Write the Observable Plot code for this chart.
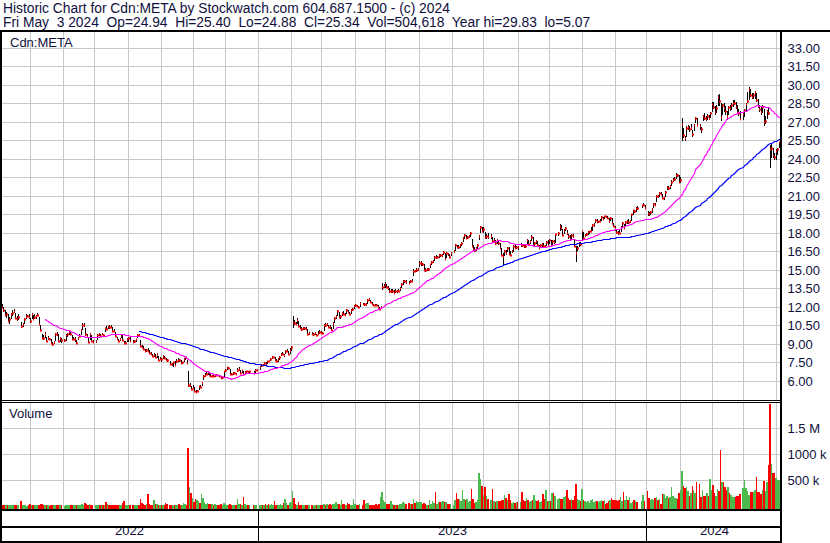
<!DOCTYPE html>
<html><head><meta charset="utf-8">
<script src="https://cdn.jsdelivr.net/npm/d3@7"></script>
<script src="https://cdn.jsdelivr.net/npm/@observablehq/plot@0.6"></script>
<style>
body{margin:0;background:#fff;}
#chart{position:relative;width:830px;height:543px;overflow:hidden;background:#fff;font-family:'Liberation Sans',Arial,sans-serif;color:#101040;}
.t{position:absolute;font-size:13px;line-height:13px;white-space:pre;}
.hd{font-size:13.8px;}
.b{position:absolute;background:#000;}
.p{position:absolute;left:0;}
.p svg{display:block;}
</style></head><body>
<div id="chart">
  <div class="t hd" id="h1" style="left:3px;top:1.5px"></div>
  <div class="t hd" id="h2" style="left:3px;top:16px"></div>
  <div class="p" id="price" style="top:32px"></div>
  <div class="p" id="vol" style="top:403px"></div>
  <div class="p" id="axis" style="top:511px"></div>
  <div class="t" id="sym" style="left:10px;top:36px"></div>
  <div class="t" id="vlab" style="left:9px;top:407px"></div>
  <div class="b" style="left:0;top:30px;width:830px;height:2px"></div>
  <div class="b" style="left:0;top:30px;width:2px;height:513px"></div>
  <div class="b" style="left:780px;top:30px;width:2px;height:513px"></div>
  <div class="b" style="left:0;top:400px;width:782px;height:1px"></div>
  <div class="b" style="left:0;top:402px;width:782px;height:1px"></div>
  <div class="b" style="left:0;top:509px;width:782px;height:2px"></div>
  <div class="b" style="left:0;top:526px;width:782px;height:2px"></div>
  <div class="b" style="left:0;top:541px;width:782px;height:2px"></div>
  <div id="warn" style="position:absolute;left:300px;top:40px;color:red;font:12px sans-serif"></div>
</div>
<script>
const titleText = "Historic Chart for Cdn:META by Stockwatch.com 604.687.1500 - (c) 2024";
const quoteText = "Fri May  3 2024  Op=24.94  Hi=25.40  Lo=24.88  Cl=25.34  Vol=504,618  Year hi=29.83  lo=5.07";
const symbolText = "Cdn:META";
const volumeText = "Volume";
const firstDay = "2022-05-04";
const lastDay = "2024-05-03";
const holidays = ["2022-05-23","2022-07-01","2022-08-01","2022-09-05","2022-10-10","2022-12-26","2022-12-27",
  "2023-01-02","2023-02-20","2023-04-07","2023-05-22","2023-07-03","2023-08-07","2023-09-04","2023-10-09","2023-12-25","2023-12-26",
  "2024-01-01","2024-02-19","2024-03-29"];

const close = [
12.89,12.02,11.76,11.32,11.40,10.89,11.03,11.46,11.54,11.69,11.09,11.04,11.17,10.46,10.61,11.06,11.26,11.28,11.17,
10.88,11.47,11.01,11.21,11.29,11.35,10.62,10.13,9.48,9.45,9.77,9.28,9.45,9.42,9.06,8.99,9.16,9.82,9.78,9.27,9.46,9.30,
9.33,9.70,9.80,9.94,9.82,9.40,9.42,9.43,9.12,9.50,9.65,10.14,10.56,10.57,9.77,9.62,9.18,9.78,9.27,9.18,
9.23,9.72,9.82,9.63,9.81,9.71,10.27,10.22,10.42,10.40,10.36,10.07,10.06,9.67,9.39,9.28,9.40,9.72,9.32,9.05,9.10,9.38,
9.52,9.23,9.13,9.24,9.39,9.74,9.73,8.82,8.72,8.61,8.43,8.54,8.46,8.23,8.20,8.01,8.08,7.95,8.16,7.74,7.82,
7.78,8.06,7.89,7.72,7.69,7.40,7.34,7.51,7.30,7.66,7.72,7.71,7.49,7.52,7.82,7.92,7.48,5.64,5.71,5.37,
5.47,5.21,5.11,5.22,5.56,5.55,5.83,6.43,6.50,6.57,6.73,6.51,6.41,6.44,6.41,6.45,6.47,6.46,6.41,6.25,6.29,6.79,
6.93,7.10,7.04,6.56,6.55,6.63,6.66,6.60,6.91,6.99,6.68,6.87,6.58,6.73,6.78,6.72,6.79,6.65,6.91,6.92,
7.14,7.29,7.26,7.44,7.41,7.61,7.60,7.82,7.93,7.95,7.74,7.61,7.79,7.97,8.19,8.20,8.11,8.41,8.44,8.19,8.52,
8.76,10.80,10.67,10.64,10.96,10.49,10.26,10.18,10.27,10.29,10.23,9.78,9.90,9.78,9.80,9.86,9.75,9.84,10.01,
9.92,9.87,10.58,10.51,10.63,10.39,10.34,10.16,10.68,11.08,11.29,11.69,11.17,11.29,11.54,11.41,11.38,11.76,11.58,11.46,11.73,11.87,12.10,
12.17,12.07,12.03,12.34,12.26,12.22,12.23,12.57,12.65,12.39,12.24,12.17,12.16,12.14,11.96,11.83,11.96,13.62,13.72,
13.87,13.64,13.51,13.27,13.29,13.30,13.17,13.30,13.28,13.33,13.51,13.83,14.07,14.09,14.00,13.98,14.14,14.12,14.94,14.92,14.96,15.09,
15.54,15.56,15.47,15.03,14.99,15.08,15.05,15.47,15.65,15.73,16.06,16.02,16.04,16.20,16.18,16.23,16.46,15.87,16.36,16.26,16.05,16.36,
16.55,17.00,16.90,16.85,17.00,17.20,17.60,17.83,17.57,17.67,17.76,17.98,16.98,16.74,16.59,16.76,16.99,17.74,18.52,18.13,
18.36,17.67,17.78,17.68,17.79,17.37,17.40,17.16,17.42,17.18,16.75,16.22,16.12,16.50,16.36,16.76,16.32,16.24,16.52,16.96,16.79,16.84,
16.83,17.05,16.99,16.96,16.92,17.47,17.13,17.33,17.71,17.06,17.18,17.33,17.02,16.80,16.99,17.09,16.98,16.91,17.27,17.05,
17.40,17.06,17.33,17.28,17.88,17.97,18.58,18.38,17.84,18.21,18.37,17.97,17.74,17.50,17.80,17.72,16.98,16.35,16.82,17.16,17.08,
18.13,17.63,17.84,17.91,18.08,18.13,18.17,18.64,18.66,19.07,18.86,18.95,19.00,19.28,19.11,19.36,19.34,19.18,18.98,19.22,18.84,18.55,
18.38,18.11,18.02,17.97,18.49,18.83,18.41,18.92,18.95,18.86,18.96,19.51,19.83,19.77,20.04,20.00,20.25,20.28,20.03,
19.63,19.53,19.68,19.96,20.34,20.27,21.01,20.96,21.23,21.20,20.84,20.89,21.33,21.74,21.65,21.84,22.15,22.29,22.35,22.74,22.68,22.12,
22.31,26.84,25.96,25.69,26.53,26.56,26.45,26.49,26.00,26.74,27.35,26.74,26.65,26.44,27.47,27.35,27.22,27.52,27.35,27.69,
28.48,28.25,27.80,28.13,29.04,28.69,27.42,28.34,28.10,27.89,27.45,28.18,28.14,28.40,28.50,28.55,28.20,27.85,27.70,27.25,
27.61,27.95,28.48,28.71,29.64,29.18,29.05,29.21,29.40,28.77,28.26,28.09,27.77,28.20,27.04,27.07,27.88,27.73,24.81,24.91,24.31,24.18,
24.64,24.78,25.34];

const high = [
12.95,12.25,11.98,11.75,11.62,11.42,11.20,11.55,11.72,11.85,11.55,11.30,11.45,10.80,10.72,11.12,11.40,11.36,11.42,
11.10,11.55,11.35,11.45,11.36,11.52,11.22,10.50,9.80,9.70,9.98,9.55,9.62,9.50,9.40,9.15,9.25,9.90,10.00,9.85,9.58,9.48,
9.40,9.78,9.90,10.02,9.98,9.70,9.55,9.58,9.30,9.58,9.85,10.20,10.68,10.72,10.30,9.80,9.55,9.88,9.70,9.35,
9.35,9.78,9.90,9.80,9.92,9.85,10.30,10.45,10.48,10.50,10.52,10.35,10.18,10.00,9.60,9.42,9.50,9.80,9.78,9.25,9.25,9.45,
9.60,9.55,9.30,9.30,9.42,9.78,9.85,9.30,8.90,8.80,8.60,8.62,8.65,8.55,8.35,8.18,8.25,8.20,8.25,8.05,7.95,
7.85,8.12,8.05,7.90,7.80,7.60,7.45,7.55,7.62,7.75,7.90,7.80,7.70,7.55,7.88,7.98,7.70,6.85,5.85,5.62,
5.65,5.50,5.25,5.30,5.60,5.70,5.90,6.50,6.62,6.70,6.85,6.72,6.55,6.52,6.48,6.50,6.55,6.48,6.48,6.40,6.35,6.82,
7.00,7.15,7.15,6.98,6.65,6.70,6.75,6.68,7.05,7.12,6.90,6.92,6.82,6.78,6.85,6.80,6.82,6.80,6.95,6.98,
7.20,7.38,7.35,7.50,7.55,7.65,7.65,7.88,8.00,7.98,7.95,7.82,7.85,8.02,8.30,8.32,8.20,8.50,8.62,8.45,8.70,
8.80,11.25,10.95,10.80,11.10,10.90,10.55,10.35,10.40,10.40,10.35,10.25,9.98,9.95,9.88,9.95,9.85,10.05,10.10,
10.05,9.98,10.65,10.68,10.72,10.55,10.50,10.40,10.75,11.15,11.35,11.75,11.60,11.35,11.62,11.70,11.55,11.80,11.75,11.60,11.80,11.95,12.15,
12.25,12.20,12.12,12.40,12.35,12.32,12.35,12.62,12.72,12.60,12.40,12.28,12.25,12.25,12.15,12.02,12.05,13.95,13.85,
14.05,13.85,13.70,13.55,13.45,13.45,13.35,13.42,13.40,13.45,13.60,13.95,14.15,14.20,14.15,14.12,14.20,14.25,15.10,15.02,15.15,15.20,
15.75,15.70,15.60,15.45,15.20,15.15,15.20,15.50,15.75,15.85,16.15,16.25,16.10,16.30,16.30,16.30,16.55,16.35,16.42,16.40,16.30,16.45,
16.60,17.10,17.05,17.00,17.08,17.30,17.70,17.95,17.85,17.75,17.85,18.10,17.50,17.05,16.85,16.90,17.10,17.85,18.55,18.45,
18.50,18.10,17.95,18.00,17.90,17.70,17.60,17.45,17.50,17.45,17.20,16.80,16.35,16.60,16.65,16.85,16.90,16.50,16.60,17.05,17.00,16.98,
16.95,17.15,17.10,17.05,17.00,17.55,17.45,17.40,17.80,17.65,17.25,17.40,17.35,17.05,17.10,17.15,17.15,17.05,17.35,17.40,
17.50,17.40,17.40,17.40,17.95,18.10,18.70,18.65,18.30,18.30,18.50,18.25,17.95,17.85,17.90,17.95,17.40,16.95,16.95,17.25,17.25,
18.20,18.05,17.95,17.98,18.15,18.20,18.45,18.70,18.78,19.15,19.15,19.00,19.10,19.35,19.30,19.40,19.40,19.38,19.20,19.30,19.25,18.85,
18.55,18.30,18.20,18.25,18.55,18.90,18.70,18.95,19.05,19.10,19.05,19.55,19.90,19.90,20.10,20.15,20.30,20.40,20.30,
19.80,19.70,19.80,20.05,20.40,20.45,21.05,21.10,21.30,21.30,21.15,20.95,21.40,21.80,21.85,21.90,22.30,22.45,22.50,22.85,22.80,22.70,
22.55,27.30,26.55,25.90,26.65,26.75,26.65,26.80,26.35,26.85,27.40,27.30,26.85,26.60,27.55,27.70,27.45,27.65,27.60,27.80,
28.60,28.65,28.30,28.35,29.20,29.30,28.50,28.45,28.55,28.30,27.90,28.30,28.35,28.50,28.75,28.80,28.60,28.40,28.05,27.90,
27.75,28.05,28.55,29.45,29.83,29.65,29.35,29.35,29.50,29.35,28.90,28.35,28.25,28.40,28.05,27.45,28.00,28.15,25.10,25.20,24.90,24.50,
24.85,24.90,25.40];

const low = [
12.15,11.90,11.60,11.25,11.10,10.86,10.65,11.02,11.30,11.48,11.05,10.90,10.95,10.30,10.38,10.62,11.05,11.20,11.05,
10.70,11.00,10.95,11.05,11.05,11.25,10.58,10.05,9.40,9.30,9.45,9.20,9.30,9.35,8.98,8.85,9.00,9.25,9.65,9.25,9.18,9.10,
9.20,9.25,9.60,9.75,9.70,9.35,9.30,9.20,9.00,9.30,9.55,9.75,10.15,10.40,9.65,9.50,9.10,9.30,9.15,9.05,
9.10,9.35,9.65,9.55,9.70,9.62,9.95,10.15,10.20,10.25,10.30,10.02,9.95,9.60,9.30,9.15,9.22,9.45,9.28,9.00,9.02,9.15,
9.20,9.20,9.05,9.10,9.15,9.45,9.65,8.80,8.65,8.55,8.35,8.35,8.40,8.20,8.10,7.95,7.95,7.90,7.90,7.70,7.70,
7.55,7.80,7.80,7.65,7.55,7.30,7.20,7.12,7.28,7.45,7.55,7.55,7.40,7.35,7.50,7.70,7.40,5.55,5.50,5.30,
5.40,5.15,5.07,5.10,5.25,5.45,5.60,6.10,6.30,6.45,6.50,6.45,6.35,6.30,6.30,6.35,6.38,6.40,6.35,6.20,6.20,6.28,
6.70,6.90,6.95,6.52,6.45,6.50,6.58,6.50,6.75,6.85,6.60,6.65,6.52,6.55,6.68,6.60,6.68,6.58,6.68,6.85,
6.90,7.15,7.18,7.20,7.35,7.40,7.50,7.62,7.75,7.85,7.70,7.58,7.55,7.72,8.00,8.08,7.95,8.22,8.35,8.15,8.20,
8.40,10.30,10.55,10.50,10.60,10.45,10.20,10.05,10.10,10.15,10.12,9.72,9.70,9.70,9.65,9.70,9.62,9.78,9.85,
9.80,9.78,10.05,10.40,10.45,10.30,10.22,10.05,10.20,10.70,11.00,11.30,11.10,11.05,11.25,11.35,11.30,11.45,11.50,11.35,11.45,11.70,11.85,
12.00,11.98,11.92,12.02,12.15,12.10,12.10,12.25,12.50,12.35,12.15,12.05,12.08,12.05,11.90,11.78,11.80,13.38,13.55,
13.55,13.50,13.40,13.15,13.10,13.15,13.05,13.10,13.12,13.18,13.30,13.50,13.80,13.95,13.90,13.85,13.95,14.00,14.55,14.85,14.80,14.90,
15.25,15.35,15.30,15.00,14.85,14.90,14.95,15.15,15.40,15.55,15.70,15.90,15.95,15.95,16.05,16.05,16.20,15.80,15.95,16.15,15.95,16.10,
16.35,16.55,16.75,16.70,16.75,16.95,17.25,17.55,17.50,17.50,17.60,17.70,16.90,16.60,16.45,16.55,16.70,17.40,18.00,18.05,
18.00,17.55,17.55,17.50,17.55,17.25,17.20,17.05,17.10,17.05,16.70,16.15,15.30,16.10,16.25,16.45,16.25,16.10,16.35,16.45,16.70,16.70,
16.65,16.85,16.85,16.75,16.80,17.05,17.05,17.10,17.35,17.00,16.95,17.10,16.95,16.70,16.80,16.85,16.85,16.75,16.95,16.95,
17.10,17.00,17.05,17.10,17.15,17.75,18.15,18.25,17.75,17.90,18.15,17.85,17.55,17.40,17.45,17.60,16.90,15.65,16.50,16.90,16.95,
17.45,17.60,17.70,17.75,17.85,17.95,18.10,18.15,18.50,18.85,18.80,18.80,18.88,19.00,19.05,19.15,19.25,19.10,18.85,18.95,18.80,18.50,
18.20,17.95,17.85,17.90,18.05,18.45,18.35,18.45,18.75,18.75,18.80,19.00,19.45,19.65,19.70,19.90,20.00,20.15,19.95,
19.40,19.35,19.45,19.60,20.00,20.15,20.55,20.80,20.95,21.15,20.75,20.65,20.95,21.45,21.50,21.60,21.85,22.10,22.20,22.40,22.50,22.10,
22.05,25.45,25.70,25.45,25.75,26.35,26.20,26.35,25.80,26.30,26.95,26.65,26.35,26.10,27.05,27.15,27.05,27.20,27.20,27.35,
27.80,28.05,27.60,27.75,28.30,28.30,27.10,27.60,27.85,27.60,27.20,27.55,27.90,27.95,28.25,28.35,28.05,27.75,27.45,27.15,
27.20,27.40,27.85,28.50,28.75,29.00,28.85,28.85,28.90,28.60,28.15,27.85,27.60,27.75,26.65,26.85,27.25,27.55,23.30,24.10,24.05,23.90,
23.95,24.30,24.88];

// daily volume, thousands of shares
const volumeK = [
30,25,20,18,22,25,15,20,12,15,22,15,12,95,20,15,12,5,15,
30,15,12,18,10,15,25,28,35,20,22,25,18,5,15,20,12,15,20,10,12,15,
5,12,10,15,10,12,8,10,15,12,10,25,30,20,50,35,20,45,25,15,
10,15,20,15,12,18,25,66,30,15,10,15,20,12,10,15,12,20,50,100,25,15,
20,15,10,12,15,25,20,130,50,30,25,40,230,30,20,25,120,35,30,25,20,
20,25,15,50,30,15,12,20,15,18,12,40,20,15,50,35,25,1130,360,245,
160,80,140,120,90,60,225,150,70,40,60,35,30,45,25,30,20,10,15,35,25,50,
30,25,20,35,20,15,20,25,130,40,30,25,165,30,20,15,12,10,15,20,
20,25,15,20,30,25,30,20,30,10,95,25,20,25,30,20,60,130,50,25,60,
80,295,160,30,25,80,20,25,15,10,12,15,8,10,5,12,8,10,15,
15,20,40,25,30,20,35,25,40,30,80,45,30,25,110,40,35,25,50,30,20,25,130,
30,25,20,35,25,110,30,50,55,25,20,15,25,30,20,35,180,265,110,
70,45,30,35,90,30,20,15,20,25,30,40,70,50,45,50,40,35,130,50,90,75,
80,70,45,50,30,25,20,110,40,95,60,265,30,80,85,70,90,80,85,35,30,40,
20,110,245,130,130,90,310,130,120,130,80,100,330,130,60,70,120,630,520,385,
210,360,190,130,120,330,95,80,95,95,95,120,110,210,150,120,230,110,60,70,60,80,
70,80,265,120,90,160,110,80,100,120,210,110,90,110,80,100,230,140,310,90,
90,100,245,255,200,140,150,130,130,180,190,310,150,120,130,110,200,420,130,110,100,
330,120,100,70,90,60,110,130,80,100,90,70,100,120,90,110,30,60,100,120,150,110,
110,120,90,110,180,100,260,110,200,120,165,50,70,110,90,80,100,210,100,
290,150,110,130,110,150,180,120,140,40,230,230,160,200,150,180,360,200,150,150,130,250,
300,680,390,350,360,280,200,250,390,310,250,465,420,180,300,195,200,250,200,525,
300,405,250,200,330,280,1085,470,470,360,310,360,250,220,180,170,175,200,190,230,
350,505,350,280,210,270,275,260,300,560,260,270,240,300,485,280,470,795,1977,815,640,640,
540,505,505];

const priceTicks = [6, 7.5, 9, 10.5, 12, 13.5, 15, 16.5, 18, 19.5, 21, 22.5, 24, 25.5, 27, 28.5, 30, 31.5, 33];
const volTicks = [500000, 1000000, 1500000];
const volTickLabels = ["500 k", "1000 k", "1.5 M"];
const maShort = 30;
const maLong = 90;

// ---- build rows on a weekday slot axis ----
const parse = d3.utcParse("%Y-%m-%d"), fmt = d3.utcFormat("%Y-%m-%d");
const hol = new Set(holidays);
const slots = d3.utcDays(parse(firstDay), d3.utcDay.offset(parse(lastDay), 1)).filter(d => d.getUTCDay() % 6 !== 0);
const rows = [];
slots.forEach((d, j) => {
  if (hol.has(fmt(d)) || rows.length >= close.length) return;
  const t = rows.length;
  rows.push({j, date: d, hi: high[t], lo: low[t], cl: close[t], vol: volumeK[t] * 1000,
    dir: t === 0 ? 1 : Math.sign(Math.round((close[t] - close[t - 1]) * 100))});
});
const lens = [close.length, high.length, low.length, volumeK.length, rows.length];
if (new Set(lens).size !== 1) document.getElementById("warn").textContent = "len " + lens.join(",");

const monthStarts = slots.map((d, j) => j).filter(j => j > 0 && slots[j].getUTCMonth() !== slots[j - 1].getUTCMonth());
const yearStarts = slots.map((d, j) => j).filter(j => j > 0 && slots[j].getUTCFullYear() !== slots[j - 1].getUTCFullYear());
const xDomain = [-0.13, slots.length + 0.5];
const bounds = [xDomain[0], ...yearStarts, xDomain[1]];
const yearLabels = bounds.slice(0, -1).map((b, i) => ({mid: (b + bounds[i + 1]) / 2, year: String(slots[Math.max(0, Math.ceil(b))].getUTCFullYear())}));

const grid = "#c8c8c8";
const common = {
  width: 830, marginLeft: 0, marginRight: 49, marginTop: 0, marginBottom: 0,
  x: {domain: xDomain, axis: null, round: true},
  style: {fontFamily: "'Liberation Sans', Arial, sans-serif", fontSize: "13px", color: "#101040", background: "transparent", overflow: "visible"}
};

const pricePlot = Plot.plot({
  ...common, height: 368,
  y: {domain: [4.459, 34.297], axis: null, round: true},
  marks: [
    Plot.ruleY(priceTicks, {stroke: grid}),
    Plot.ruleX(monthStarts, {stroke: grid}),
    Plot.ruleX(rows, {x: "j", y1: "lo", y2: "hi", stroke: "#000"}),
    Plot.ruleY(rows, {y: "cl", x1: "j", x2: d => d.j + 1, stroke: "#ff0000", strokeWidth: 2}),
    Plot.lineY(rows, Plot.windowY({k: maLong, anchor: "end", strict: true, reduce: "mean"}, {x: "j", y: "cl", stroke: "#0000ff", strokeWidth: 1.2})),
    Plot.lineY(rows, Plot.windowY({k: maShort, anchor: "end", strict: true, reduce: "mean"}, {x: "j", y: "cl", stroke: "#ff00ff", strokeWidth: 1.1})),
    Plot.text(priceTicks, {y: d => d, text: d => d.toFixed(2), frameAnchor: "right", dx: 6, textAnchor: "start"})
  ]
});

const volBase = -60000;
const volPlot = Plot.plot({
  ...common, height: 106,
  y: {domain: [-60078, 1994186], axis: null, round: true},
  marks: [
    Plot.ruleY(volTicks, {stroke: grid}),
    Plot.ruleX(monthStarts, {stroke: grid}),
    Plot.rect(rows.filter(d => d.dir > 0), {x1: d => d.j - 0.5, x2: d => d.j + 0.5, y1: () => volBase, y2: "vol", fill: "#4cba4c"}),
    Plot.rect(rows.filter(d => d.dir < 0), {x1: d => d.j - 0.5, x2: d => d.j + 0.5, y1: () => volBase, y2: "vol", fill: "#ff0000"}),
    Plot.rect(rows.filter(d => d.dir === 0), {x1: d => d.j - 0.5, x2: d => d.j + 0.5, y1: () => volBase, y2: "vol", fill: "#a0a0a0"}),
    Plot.text(volTicks, {y: d => d, text: (d, i) => volTickLabels[i], frameAnchor: "right", dx: 6, textAnchor: "start"})
  ]
});

const axisPlot = Plot.plot({
  ...common, height: 30,
  marks: [
    Plot.ruleX(yearStarts, {stroke: "#000"}),
    Plot.text(yearLabels, {x: "mid", text: "year", frameAnchor: "bottom", dy: -7})
  ]
});

document.getElementById("price").append(pricePlot);
document.getElementById("vol").append(volPlot);
document.getElementById("axis").append(axisPlot);
document.getElementById("h1").textContent = titleText;
document.getElementById("h2").textContent = quoteText;
document.getElementById("sym").textContent = symbolText;
document.getElementById("vlab").textContent = volumeText;
</script>
</body></html>
